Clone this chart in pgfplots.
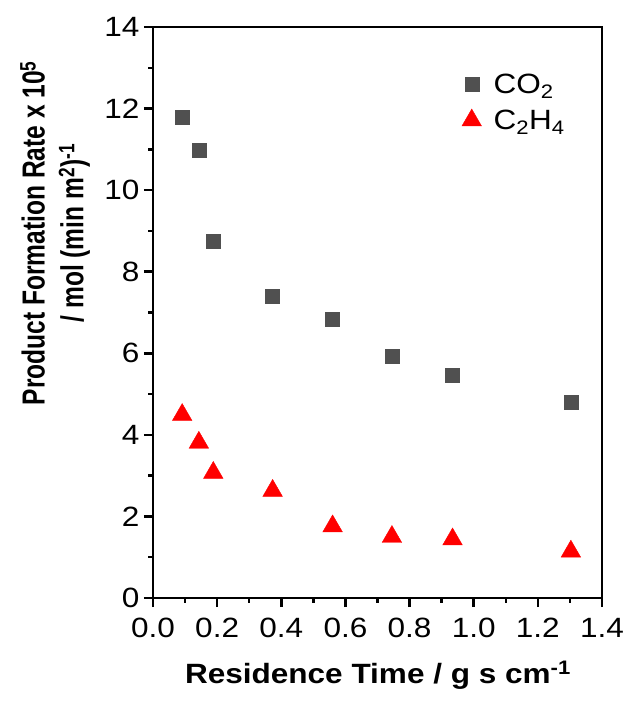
\documentclass[border=0pt]{standalone}
\usepackage{fontspec}
\setmainfont{Liberation Sans}
\newfontfamily\widefont[FakeStretch=1.13]{Liberation Sans}
\newfontfamily\narrowfont[FakeStretch=0.77]{Liberation Sans}
\usepackage{pgfplots}
\pgfplotsset{compat=1.18}
\definecolor{sqgray}{HTML}{505050}
\begin{document}
\begin{tikzpicture}
\begin{axis}[
  scale only axis,
  width=449bp, height=571bp,
  xmin=0, xmax=1.4, ymin=0, ymax=14,
  xtick={0,0.2,...,1.4},
  ytick={0,2,...,14},
  minor x tick num=1,
  minor y tick num=1,
  xticklabel style={yshift=-8bp, /pgf/number format/.cd,fixed,fixed zerofill,precision=1},
  /pgf/number format/assume math mode=true,
  tick align=outside,
  xtick pos=bottom, ytick pos=left,
  major tick length=9bp,
  minor tick length=4.5bp,
  axis line style={line width=2.5bp},
  every tick/.style={line width=2.5bp, black},
  tick label style={font=\widefont\fontsize{28}{30}\selectfont},
  yticklabel style={xshift=-1bp},
  xlabel={\widefont\bfseries\fontsize{28}{30}\selectfont Residence Time / g s cm\textsuperscript{-1}},
  ylabel={Product Formation Rate x 10\textsuperscript{5}\\/ mol (min m\textsuperscript{2})\textsuperscript{-1}},
  ylabel style={align=center, font=\narrowfont\bfseries\fontsize{32}{39}\selectfont,
    at={(axis description cs:-0.218,0.639)}, anchor=center, rotate=0},
  xlabel style={at={(axis description cs:0.501,-0.149)}, anchor=base},
  legend style={draw=none, fill=none, at={(axis description cs:0.681,0.868)}, anchor=west,
    font=\widefont\fontsize{28}{30}\selectfont, row sep=11bp, cells={anchor=west}},
  legend cell align=left,
  clip=false,
]
\addplot[only marks, mark=square*, mark size=7bp, color=sqgray] coordinates {
  (0.091,11.79) (0.143,10.97) (0.188,8.76) (0.373,7.39) (0.560,6.84) (0.745,5.92) (0.934,5.46) (1.303,4.81)
};
\addlegendentry{\hspace{10bp}CO\textsubscript{2}}
\addplot[only marks, mark=triangle*, mark size=11.3bp, color=red] coordinates {
  (0.091,4.49) (0.143,3.81) (0.188,3.07) (0.373,2.63) (0.560,1.76) (0.745,1.50) (0.934,1.44) (1.303,1.14)
};
\addlegendentry{\hspace{10bp}C\textsubscript{2}H\textsubscript{4}}
\end{axis}
\path[use as bounding box] (-153bp,-104bp) rectangle (475bp,598bp);
\end{tikzpicture}
\end{document}
